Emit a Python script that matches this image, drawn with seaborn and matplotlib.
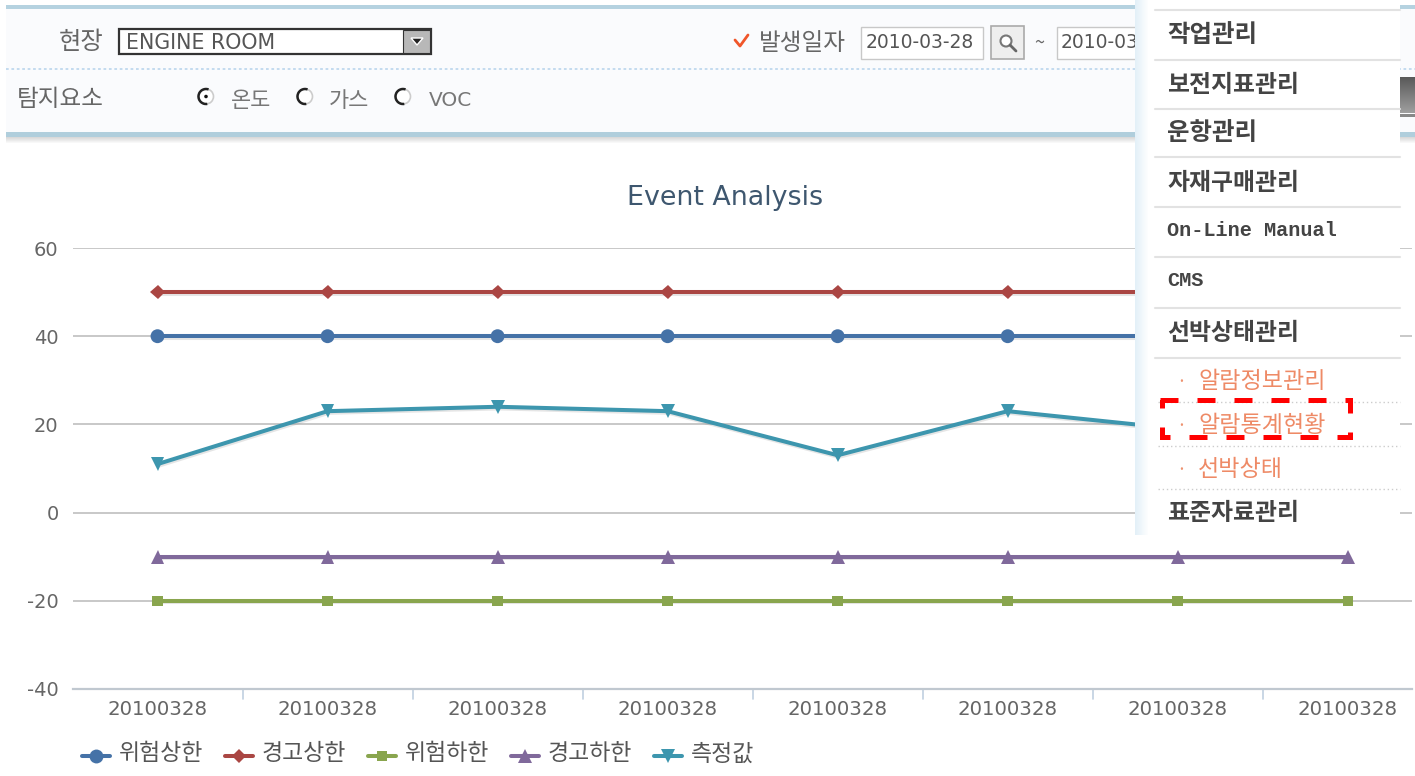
import matplotlib
matplotlib.use("Agg")
import matplotlib.pyplot as plt
import matplotlib.patheffects as pe
from matplotlib.lines import Line2D
from matplotlib.patches import Rectangle, Circle, Polygon, Arc
import numpy as np
import pandas as pd
import seaborn as sns

# Chart data
days = ["20100328"] * 8
danger_high = [40, 40, 40, 40, 40, 40, 40, 40]
warn_high = [50, 50, 50, 50, 50, 50, 50, 50]
danger_low = [-20, -20, -20, -20, -20, -20, -20, -20]
warn_low = [-10, -10, -10, -10, -10, -10, -10, -10]
measured = [11, 23, 24, 23, 13, 23, 19, 19]      # last two sit behind the menu, estimated

series_names = ["위험상한", "경고상한", "위험하한", "경고하한", "측정값"]
series_values = [danger_high, warn_high, danger_low, warn_low, measured]
colors = ["#4572A7", "#AA4643", "#89A54E", "#80699B", "#3D96AE"]
markers = ["o", "D", "s", "^", "v"]
marker_sizes = [10, 7.5, 7.5, 10, 10]
y_ticks = [-40, -20, 0, 20, 40, 60]
y_labels = ["-40", "-20", "0", "20", "40", "60"]

# Menu text
menu_items = ["작업관리", "보전지표관리", "운항관리", "자재구매관리", "On-Line Manual", "CMS", "선박상태관리"]
menu_y = [33, 83, 131, 181, 230, 280, 331]
menu_rules = [10, 60, 109, 157, 207, 257, 308, 358]
sub_items = ["알람정보관리", "알람통계현황", "선박상태"]
sub_y = [380, 424, 468]

sns.set_theme(style="white")
plt.rcParams['font.family'] = ['Noto Sans CJK KR', 'DejaVu Sans']

W, H = 1415, 776
fig = plt.figure(figsize=(W / 100, H / 100), dpi=100, facecolor="white")

# ---- chart ----
ax = fig.add_axes([72.5 / W, 1 - 689 / H, (1411.5 - 72.5) / W, (689 - 248) / H])
rows = []
for name, vals in zip(series_names, series_values):
    for i, v in enumerate(vals):
        rows.append({"pos": i, "value": v, "series": name})
df = pd.DataFrame(rows)

sns.lineplot(
    data=df, x="pos", y="value", hue="series", hue_order=series_names,
    palette=dict(zip(series_names, colors)), legend=False, ax=ax, linewidth=2.9,
    errorbar=None, sort=False, zorder=4,
)
for line, name, m, ms, c in zip(ax.get_lines(), series_names, markers, marker_sizes, colors):
    line.set_marker(m)
    line.set_markersize(ms)
    line.set_markerfacecolor(c)
    line.set_markeredgecolor(c)
    line.set_markeredgewidth(0)
    line.set_clip_on(False)
    line.set_path_effects([
        pe.SimpleLineShadow(offset=(0.7, -1.2), shadow_color="#999999", alpha=0.25),
        pe.Normal(),
    ])

ax.set_xlim(-0.5, 7.375)
ax.set_ylim(-40, 60)
ax.set_yticks(y_ticks)
ax.set_yticklabels(y_labels)
ax.set_xticks(range(8))
ax.set_xticklabels(days)
ax.grid(True, axis="y", color="#C4C4C4", linewidth=1.3)
ax.set_axisbelow(True)
for s in ["top", "right", "left"]:
    ax.spines[s].set_visible(False)
ax.spines["bottom"].set_color("#C0C8D0")
ax.spines["bottom"].set_linewidth(1.6)
ax.tick_params(axis="x", length=0, pad=8, labelsize=14.2, labelcolor="#666666")
ax.tick_params(axis="y", length=0, pad=10, labelsize=14, labelcolor="#666666")
for lab in ax.get_xticklabels() + ax.get_yticklabels():
    lab.set_family("DejaVu Sans")
ax.set_xlabel("")
ax.set_ylabel("")
for b in np.arange(0.5, 7.5):
    ax.plot([b, b], [0, -0.022], transform=ax.get_xaxis_transform(), color="#C0D0E0",
            linewidth=1.2, clip_on=False)

# ---- everything around the chart, in pixel coordinates ----
ov = fig.add_axes([0, 0, 1, 1], facecolor="none", zorder=10)
ov.set_xlim(0, W)
ov.set_ylim(H, 0)
ov.axis("off")

def rect(x, y, w, h, fc, ec="none", lw=0, z=1):
    ov.add_patch(Rectangle((x, y), w, h, facecolor=fc, edgecolor=ec, linewidth=lw, zorder=z))

def txt(x, y, s, size=15, color="#666666", **kw):
    ov.text(x, y + 4, s, fontsize=size, color=color, va="center", **kw)

ov.text(725.5, 198, "Event Analysis", fontsize=19.4, color="#3E576F", ha="center", va="center",
        family="DejaVu Sans")

# search panel
rect(6, 8, 1409, 128, "#FAFBFD")
rect(6, 5, 1409, 3.5, "#B5D2E0")
rect(6, 132, 1409, 5, "#B0CEDC")
for i, a in enumerate(np.linspace(0.28, 0.0, 7)):
    rect(6, 137 + i, 1409, 1, "#777777")
    ov.patches[-1].set_alpha(a)
ov.plot([6, 1415], [68.5, 68.5], color="#BFD8EE", lw=1.3, ls=(0, (1.5, 1.5)), zorder=2)

txt(59, 38, "현장", 17.5)
rect(118.5, 28.5, 312, 25, "white", "#333333", 1.6, 2)
txt(126, 39, "ENGINE ROOM", 14.8, "#555555", family="DejaVu Sans")
rect(403, 30, 27, 23, "#B8B8B8", "#333333", 0.8, 3)
ov.add_patch(Polygon([[411, 38], [423, 38], [417, 45]], facecolor="#222222", zorder=4))

txt(17, 96, "탐지요소", 17)
for cx, label, lx in zip([206, 305, 403], ["온도", "가스", "VOC"], [231, 329, 429]):
    ov.add_patch(Circle((cx, 96.5), 7.5, facecolor="white", edgecolor="#CCCCCC", linewidth=1.2, zorder=3))
    ov.add_patch(Arc((cx, 96.5), 15, 15, theta1=80, theta2=290, edgecolor="#222222", linewidth=1.8, zorder=4))
    if label == "VOC":
        txt(lx, 97, label, 14.5, "#777777", family=["DejaVu Sans"])
    else:
        txt(lx, 97, label, 15.8, "#777777")
ov.add_patch(Circle((206, 96.5), 2.5, facecolor="#111111", zorder=4))

ov.plot([735, 740, 748], [40, 46, 35], color="#F0562A", lw=2, zorder=3)
txt(759, 39, "발생일자", 17)
rect(860.5, 26.5, 122, 32, "white", "#C8C8C8", 1, 2)
txt(866, 39, "2010-03-28", 13.5, "#555555", family="DejaVu Sans")
rect(991, 26, 33, 33, "#EEEEEE", "#AAAAAA", 1.2, 2)
ov.add_patch(Circle((1006, 41), 5.5, facecolor="white", edgecolor="#777777", linewidth=1.5, zorder=3))
ov.plot([1010, 1016], [45, 51], color="#666666", lw=2, zorder=3)
txt(1034, 39, "~", 13)
rect(1056.5, 26.5, 100, 32, "white", "#C8C8C8", 1, 2)
txt(1061, 39, "2010-03", 13.5, "#555555", family="DejaVu Sans")

# grey scrollbar piece at the right edge
for i, g in enumerate(np.linspace(0.35, 0.62, 36)):
    rect(1400, 77 + i, 15, 1, str(g), z=2)
rect(1400, 114, 15, 3, "#888888", z=2)

# menu overlay
rect(1135, 0, 265, 535, "white", z=5)
for i, a in enumerate(np.linspace(1, 0, 14)):
    rect(1135 + i, 0, 1, 535, "#E3F0F8", z=6)
    ov.patches[-1].set_alpha(a)
for y in menu_rules:
    ov.plot([1155, 1400], [y, y], color="#E2E2E2", lw=1.5, zorder=6)
for s, y in zip(menu_items, menu_y):
    if s[0] in "OC":
        txt(1167, y - 4, s, 14.6, "#444444", family=["Liberation Mono"], fontweight="bold", zorder=7)
    else:
        txt(1167, y - 2, s, 17.6 if len(s) == 4 else 17.2, "#444444", fontweight="bold", zorder=7)
txt(1167, 509, "표준자료관리", 17.2, "#444444", fontweight="bold", zorder=7)
for s, y in zip(sub_items, sub_y):
    txt(1176, y - 2, "·", 13, "#EE9370", zorder=7)
    txt(1198, y - 2, s, 16.6, "#EE8A66", zorder=7)
for y in [401.5, 445.5, 489]:
    ov.plot([1158, 1400], [y, y], color="#CCCCCC", lw=1, ls=(0, (1, 2)), zorder=6)

# red dashed highlight box
ov.plot([1160, 1350, 1350, 1162, 1162], [400, 400, 437, 437, 400], color="#FF0000", lw=3.6,
        ls=(0, (3.6, 3.8)), dash_capstyle="butt", dash_joinstyle="miter", zorder=8)

# legend
legend_x = [96, 239, 382, 525, 668]
text_x = [119, 262, 405, 548, 691]
for name, c, m, ms, lx, tx in zip(series_names, colors, markers, marker_sizes, legend_x, text_x):
    ov.add_line(Line2D([lx - 14, lx, lx + 14], [756, 756, 756], color=c, lw=2.9, marker=m, markersize=ms,
                       markevery=[1], markeredgewidth=0, zorder=3))
    txt(tx, 750, name, 16.5, "#555555")

fig.savefig("out.png", dpi=100)
